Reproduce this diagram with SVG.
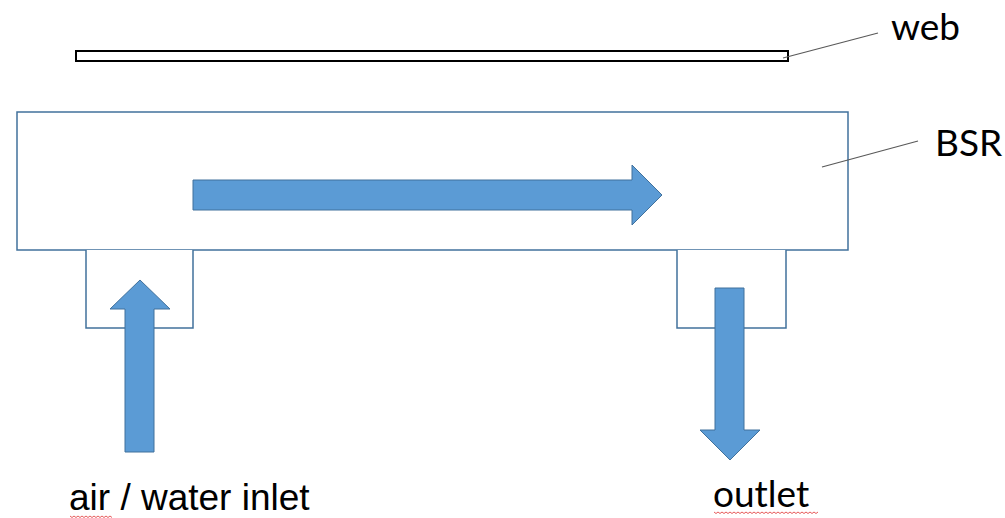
<svg xmlns="http://www.w3.org/2000/svg" width="1005" height="518" viewBox="0 0 1005 518">
<style>
.box{fill:#fff;stroke:#41719C;stroke-width:1.5}
.arrow{fill:#5B9BD5;stroke:#41719C;stroke-width:1}
.lead{stroke:#595959;stroke-width:1.2;fill:none}
.lbl{font-family:Lato,"Open Sans",sans-serif;font-size:37px;fill:#000}
.lbl2{font-family:"Liberation Sans",Arial,sans-serif;font-size:37px;fill:#000}
.squig{fill:none;stroke:#E03030;stroke-width:0.8}
</style>
<g id="web">
<rect x="76" y="51" width="712" height="10" fill="#fff" stroke="#000" stroke-width="2"/>
<text class="lbl" x="891" y="40">web</text>
</g>
<g id="bsr">
<rect class="box" x="17" y="112" width="831" height="138"/>
<text class="lbl" x="935" y="156">BSR</text>
</g>
<g id="inlet-box">
<polyline class="box" points="86,250 86,328 193,328 193,250"/>
</g>
<g id="outlet-box">
<polyline class="box" points="677,250 677,328 786,328 786,250"/>
</g>
<g id="connectors">
<line class="lead" x1="783" y1="58" x2="878" y2="33"/>
<line class="lead" x1="822" y1="167" x2="918" y2="141"/>
<polygon class="arrow" points="193,180 632,180 632,165 662,195 632,225 632,210 193,210"/>
<polygon class="arrow" points="125,452 125,309 110,309 140,280 170,309 154,309 154,452"/>
<polygon class="arrow" points="715,288 744,288 744,430 760,430 730,460 700,430 715,430"/>
</g>
<g id="labels">
<text class="lbl2" x="69" y="510">air / water inlet</text>
<path class="squig" d="M70,516 l2,1.5 l2,-1.5 l2,1.5 l2,-1.5 l2,1.5 l2,-1.5 l2,1.5 l2,-1.5 l2,1.5 l2,-1.5 l2,1.5 l2,-1.5 l2,1.5 l2,-1.5 l2,1.5 l2,-1.5 l2,1.5 l2,-1.5 l2,1.5 l2,-1.5 l2,1.5"/>
<text class="lbl" x="713" y="507">outlet</text>
<path class="squig" d="M714,512 l2,1.5 l2,-1.5 l2,1.5 l2,-1.5 l2,1.5 l2,-1.5 l2,1.5 l2,-1.5 l2,1.5 l2,-1.5 l2,1.5 l2,-1.5 l2,1.5 l2,-1.5 l2,1.5 l2,-1.5 l2,1.5 l2,-1.5 l2,1.5 l2,-1.5 l2,1.5 l2,-1.5 l2,1.5 l2,-1.5 l2,1.5 l2,-1.5 l2,1.5 l2,-1.5 l2,1.5 l2,-1.5 l2,1.5 l2,-1.5 l2,1.5 l2,-1.5 l2,1.5 l2,-1.5 l2,1.5 l2,-1.5 l2,1.5 l2,-1.5 l2,1.5 l2,-1.5 l2,1.5 l2,-1.5 l2,1.5 l2,-1.5 l2,1.5 l2,-1.5 l2,1.5 l2,-1.5 l2,1.5 l2,-1.5"/>
</g>
</svg>
